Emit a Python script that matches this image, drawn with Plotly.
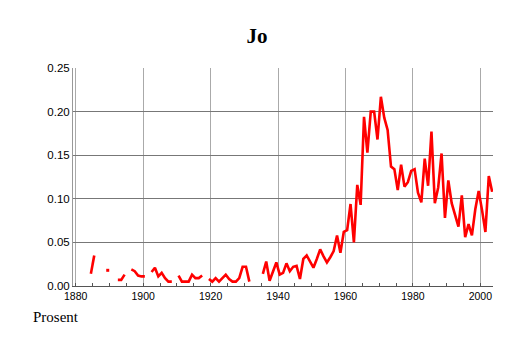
import plotly.graph_objects as go

# ---- data (share, by year; None = no data) ----
years = list(range(1884, 2004))
values = [
    0.014, 0.035, None, None, None, 0.018, None, None, 0.007, 0.007,   # 1884-1893
    0.013, None, 0.019, 0.017, 0.012, 0.011, 0.011, None, 0.016, 0.021, # 1894-1903
    0.011, 0.015, 0.009, 0.005, 0.005, None, 0.012, 0.005, 0.005, 0.005, # 1904-1913
    0.013, 0.009, 0.009, 0.012, None, 0.008, 0.005, 0.009, 0.005, 0.009, # 1914-1923
    0.013, 0.008, 0.005, 0.005, 0.009, 0.022, 0.022, 0.005, None, None,  # 1924-1933
    None, 0.014, 0.028, 0.006, 0.016, 0.027, 0.013, 0.015, 0.026, 0.017, # 1934-1943
    0.022, 0.023, 0.008, 0.031, 0.035, 0.028, 0.021, 0.031, 0.042, 0.034, # 1944-1953
    0.027, 0.033, 0.040, 0.058, 0.038, 0.062, 0.064, 0.094, 0.050, 0.116, # 1954-1963
    0.093, 0.194, 0.153, 0.200, 0.200, 0.168, 0.217, 0.193, 0.179, 0.137, # 1964-1973
    0.134, 0.110, 0.139, 0.114, 0.119, 0.132, 0.134, 0.107, 0.096, 0.146, # 1974-1983
    0.115, 0.177, 0.095, 0.113, 0.152, 0.078, 0.121, 0.095, 0.082, 0.068, # 1984-1993
    0.104, 0.056, 0.071, 0.058, 0.088, 0.109, 0.087, 0.062, 0.126, 0.108, # 1994-2003
]
title_text = "Jo"
y_label = "Prosent"
y_ticks = [0, 0.05, 0.10, 0.15, 0.20, 0.25]
x_ticks = [1880, 1900, 1920, 1940, 1960, 1980, 2000]

# values are plotted at mid-year
xs = [y + 0.5 for y in years]

# isolated points (no neighbours) shown as small marks
iso_x, iso_y = [], []
for i, v in enumerate(values):
    if v is None:
        continue
    prev_v = values[i - 1] if i > 0 else None
    next_v = values[i + 1] if i < len(values) - 1 else None
    if prev_v is None and next_v is None:
        iso_x.append(xs[i])
        iso_y.append(v)

fig = go.Figure()
fig.add_trace(go.Scatter(
    x=xs, y=values, mode="lines", connectgaps=False,
    line=dict(color="#ff0000", width=2.6), hoverinfo="skip",
))
fig.add_trace(go.Scatter(
    x=iso_x, y=iso_y, mode="markers",
    marker=dict(symbol="square", size=3, color="#ff0000", line=dict(width=0)),
    hoverinfo="skip",
))

fig.update_layout(
    width=514, height=343,
    margin=dict(l=73, r=21, t=68, b=57, pad=0),
    paper_bgcolor="white", plot_bgcolor="white",
    showlegend=False,
    title=dict(
        text="<b>" + title_text + "</b>",
        font=dict(family="Liberation Serif", size=21, color="black"),
        x=0.5, xref="container", xanchor="center",
        y=1 - 36 / 343, yref="container", yanchor="middle",
    ),
    xaxis=dict(
        range=[1879.2, 2003.75],
        tickmode="array", tickvals=x_ticks, ticktext=[str(t) for t in x_ticks],
        showgrid=True, gridcolor="#aaaaaa", gridwidth=1,
        zeroline=False, showline=True, linecolor="#555555", linewidth=1,
        ticks="", tickfont=dict(family="Liberation Sans", size=10.5, color="black"),
        minor=dict(tick0=1880, dtick=5, ticks="inside", ticklen=3,
                   tickcolor="#555555", showgrid=False),
        fixedrange=True,
    ),
    yaxis=dict(
        range=[0, 0.25],
        tickmode="array", tickvals=y_ticks, ticktext=["%.2f" % t for t in y_ticks],
        showgrid=True, gridcolor="#777777", gridwidth=1,
        zeroline=False, showline=True, linecolor="#999999", linewidth=1,
        ticks="", tickfont=dict(family="Liberation Sans", size=11.5, color="black"),
        fixedrange=True,
    ),
    annotations=[dict(
        text=y_label, xref="paper", yref="paper",
        x=(31 - 73) / 420, y=(286 - 317) / 218,
        xanchor="left", yanchor="middle", showarrow=False,
        font=dict(family="Liberation Serif", size=15, color="black"),
    )],
)

fig.write_html("out.html", config={"displayModeBar": False})
